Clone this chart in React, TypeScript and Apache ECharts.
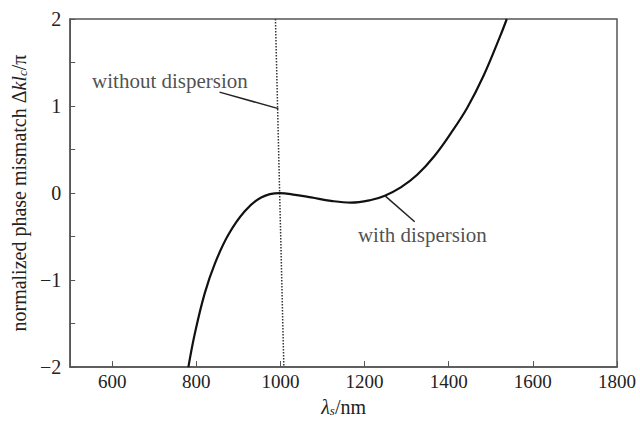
import React, { useEffect, useRef } from "react";
import * as echarts from "echarts";

const withDispersion: [number, number][] = [
  [781, -2], [797, -1.6], [820, -1.15], [844, -0.81], [876, -0.48], [915, -0.21],
  [954, -0.05], [998, 0.0], [1035, -0.02], [1073, -0.05], [1120, -0.09], [1167, -0.11],
  [1215, -0.08], [1248, -0.03], [1286, 0.065], [1325, 0.21], [1365, 0.42], [1404, 0.68],
  [1444, 0.98], [1483, 1.35], [1522, 1.8], [1538, 2],
];
const withoutDispersion: [number, number][] = [[988, 2], [1008, -2]];
const pointerWithout: [number, number][] = [[855, 1.16], [995, 0.97]];
const pointerWith: [number, number][] = [[1248, -0.03], [1319, -0.33]];
const xTickValues = [600, 800, 1000, 1200, 1400, 1600, 1800];
const yLabelValues = [-2, -1, 0, 1, 2];
const annotations = [
  { text: "without dispersion", x: 552, y: 1.29 },
  { text: "with dispersion", x: 1184, y: -0.48 },
];

const FONT = "'Liberation Serif', 'Times New Roman', serif";

export default function App() {
  const ref = useRef<HTMLDivElement>(null);
  useEffect(() => {
    const chart = echarts.init(ref.current!, null, { renderer: "svg" });
    chart.setOption({
      animation: false,
      textStyle: { fontFamily: FONT },
      grid: {
        left: 68, right: 23, top: 19, bottom: 46,
        show: true, borderColor: "#555", borderWidth: 1.5,
      },
      xAxis: {
        type: "value", min: 500, max: 1800, interval: 100,
        axisLine: { onZero: false, lineStyle: { color: "#555", width: 1.5 } },
        axisTick: { inside: true, length: 6, lineStyle: { color: "#555" }, customValues: xTickValues },
        axisLabel: {
          color: "#222", fontSize: 19, fontFamily: FONT, margin: 5, customValues: xTickValues,
          formatter: (v: number) => String(v),
        },
        splitLine: { show: false },
        name: "{i|λ}{s|s}{n|/nm}",
        nameLocation: "middle",
        nameGap: 27,
        nameTextStyle: {
          rich: {
            i: { fontSize: 20, fontStyle: "italic", fontFamily: FONT, color: "#222", lineHeight: 22 },
            s: { fontSize: 13, fontStyle: "italic", fontFamily: FONT, color: "#222", lineHeight: 22, padding: [8, 0, 0, 0] },
            n: { fontSize: 20, fontFamily: FONT, color: "#222", lineHeight: 22 },
          },
        },
      },
      yAxis: {
        type: "value", min: -2, max: 2, interval: 0.5,
        axisLine: { show: true, onZero: false, lineStyle: { color: "#555", width: 1.5 } },
        axisTick: { show: true, inside: true, length: 5, lineStyle: { color: "#555" } },
        axisLabel: {
          color: "#222", fontSize: 20, fontFamily: FONT, margin: 9,
          customValues: yLabelValues,
          formatter: (v: number) => String(v).replace("-", "\u2212"),
        },
        splitLine: { show: false },
        name: "{n|normalized phase mismatch Δ}{i|kl}{s|c}{n|/π}",
        nameLocation: "middle",
        nameGap: 40,
        nameTextStyle: {
          rich: {
            i: { fontSize: 20, fontStyle: "italic", fontFamily: FONT, color: "#222", lineHeight: 22 },
            s: { fontSize: 13, fontStyle: "italic", fontFamily: FONT, color: "#222", lineHeight: 22, padding: [8, 0, 0, 0] },
            n: { fontSize: 20, fontFamily: FONT, color: "#222", lineHeight: 22 },
          },
        },
      },
      series: [
        {
          type: "line", data: withDispersion, smooth: 0.4, symbol: "none",
          lineStyle: { color: "#111", width: 2.2 }, z: 3,
        },
        {
          type: "line", data: withoutDispersion, symbol: "none",
          lineStyle: { color: "#333", width: 1.5, type: "dotted" }, z: 2,
        },
        {
          type: "line", data: pointerWithout, symbol: "none",
          lineStyle: { color: "#222", width: 1.5 },
        },
        {
          type: "line", data: pointerWith, symbol: "none",
          lineStyle: { color: "#222", width: 1.5 },
        },
        {
          type: "scatter", symbolSize: 0,
          data: annotations.map((a) => ({ value: [a.x, a.y], name: a.text })),
          label: {
            show: true, position: "right", distance: 0,
            formatter: (p: any) => p.name,
            fontSize: 21, fontFamily: FONT, color: "#222",
          },
          silent: true,
        },
      ],
    });
    return () => chart.dispose();
  }, []);
  return (
    <div
      ref={ref}
      style={{ position: "fixed", left: 0, top: 0, width: 640, height: 422, background: "#fff" }}
    />
  );
}
